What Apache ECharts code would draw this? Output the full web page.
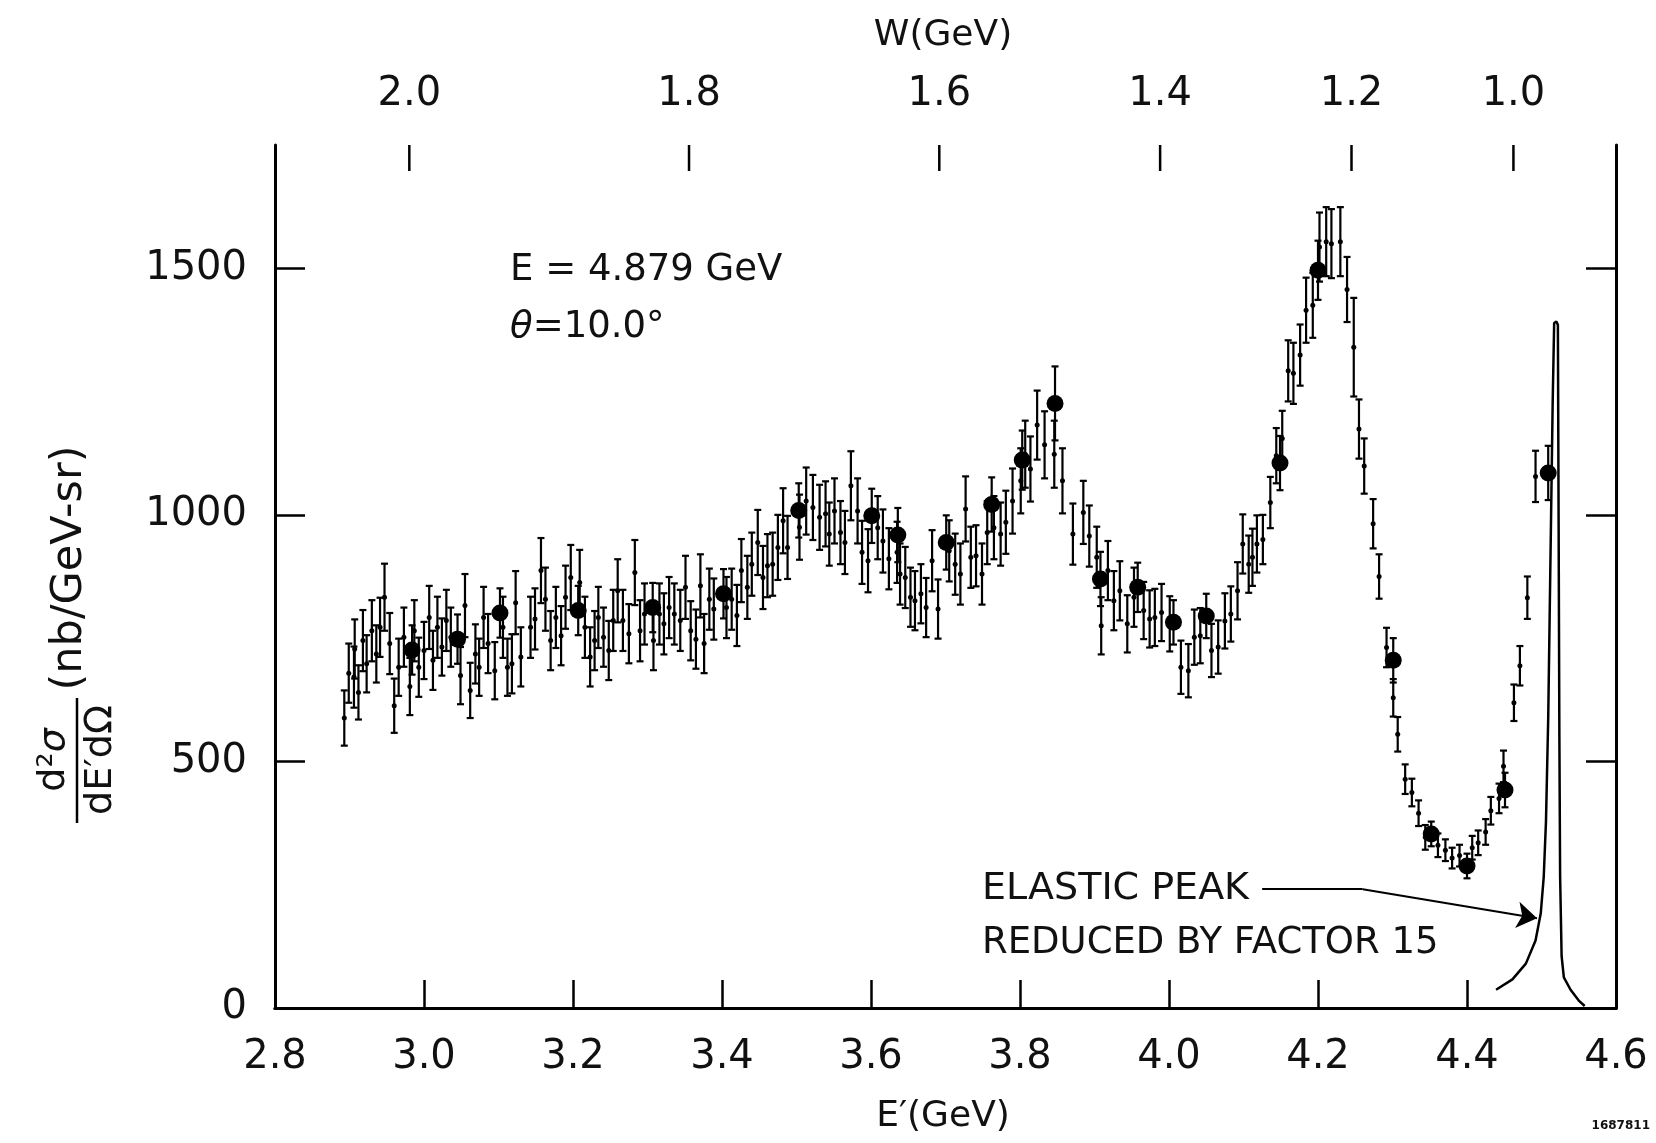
<!DOCTYPE html>
<html>
<head>
<meta charset="utf-8">
<title>d2sigma/dE'dOmega, E = 4.879 GeV, theta = 10.0 deg</title>
<script src="https://cdn.jsdelivr.net/npm/echarts@6.0.0/dist/echarts.min.js"></script>
<style>
  html, body { margin: 0; padding: 0; background: #fff; }
  #chart { width: 1656px; height: 1143px; }
</style>
</head>
<body>
<div id="chart"></div>
<script>
// kinematics (used only for the W scale on top)
var beamE = 4.879, thetaDeg = 10.0, protonM = 0.938;
var sin2 = Math.pow(Math.sin(thetaDeg / 2 * Math.PI / 180), 2);
function ePrimeFromW(w) {
  return (protonM * protonM + 2 * protonM * beamE - w * w) / (2 * protonM + 4 * beamE * sin2);
}
function wFromEPrime(ep) {
  return Math.sqrt(protonM * protonM + 2 * protonM * (beamE - ep) - 4 * beamE * ep * sin2);
}

var wTicks = [2.0, 1.8, 1.6, 1.4, 1.2, 1.0];
var yTicks = [0, 500, 1000, 1500];

// [E' (GeV), d2sigma (nb/GeV-sr), error]
var smallPoints = [
  [2.893, 588, 56], [2.899, 679, 60], [2.906, 671, 62], [2.907, 728, 60], [2.912, 640, 55],
  [2.918, 745, 62], [2.923, 698, 58], [2.930, 765, 62], [2.936, 718, 58], [2.941, 772, 60],
  [2.947, 833, 68], [2.954, 739, 62], [2.960, 613, 55], [2.966, 691, 58], [2.973, 752, 60],
  [2.981, 652, 58], [2.987, 765, 62], [2.993, 691, 60], [3.000, 725, 58], [3.007, 792, 64],
  [3.012, 705, 60], [3.018, 772, 62], [3.024, 732, 58], [3.030, 786, 62], [3.036, 752, 60],
  [3.049, 674, 58], [3.055, 816, 64], [3.062, 644, 56], [3.069, 718, 60], [3.074, 691, 58],
  [3.080, 792, 62], [3.086, 739, 60], [3.095, 684, 58], [3.106, 772, 62], [3.112, 691, 58],
  [3.118, 698, 60], [3.123, 822, 64], [3.130, 712, 60], [3.143, 772, 62], [3.149, 789, 62],
  [3.157, 887, 66], [3.163, 829, 64], [3.170, 745, 60], [3.177, 792, 62], [3.184, 755, 60],
  [3.190, 833, 64], [3.197, 873, 66], [3.209, 863, 66], [3.216, 772, 62], [3.223, 712, 60],
  [3.229, 745, 60], [3.234, 792, 62], [3.241, 752, 60], [3.248, 725, 60], [3.254, 786, 62],
  [3.260, 846, 64], [3.267, 786, 62], [3.275, 759, 60], [3.283, 883, 66], [3.290, 765, 62],
  [3.296, 799, 62], [3.308, 745, 60], [3.316, 799, 62], [3.322, 779, 62], [3.329, 812, 62],
  [3.336, 799, 62], [3.344, 786, 62], [3.351, 853, 64], [3.358, 765, 60], [3.365, 748, 60],
  [3.371, 856, 64], [3.376, 739, 60], [3.383, 829, 62], [3.389, 809, 62], [3.406, 812, 62],
  [3.413, 829, 62], [3.420, 796, 62], [3.426, 887, 64], [3.434, 853, 64], [3.440, 900, 64],
  [3.448, 944, 66], [3.455, 873, 64], [3.461, 897, 64], [3.468, 900, 64], [3.475, 934, 66],
  [3.482, 988, 66], [3.488, 934, 64], [3.504, 975, 66], [3.513, 1028, 68], [3.522, 1015, 66],
  [3.531, 995, 66], [3.539, 1002, 66], [3.544, 961, 64], [3.551, 1008, 66], [3.559, 964, 64],
  [3.565, 944, 64], [3.573, 1059, 70], [3.582, 1008, 66], [3.588, 924, 64], [3.596, 907, 64],
  [3.609, 974, 64], [3.616, 947, 64], [3.624, 911, 62], [3.635, 924, 62], [3.639, 880, 62],
  [3.646, 873, 62], [3.653, 833, 60], [3.659, 826, 60], [3.667, 840, 60], [3.674, 812, 60],
  [3.682, 907, 62], [3.690, 809, 60], [3.705, 927, 62], [3.713, 900, 62], [3.720, 880, 62],
  [3.727, 1012, 66], [3.734, 914, 62], [3.741, 917, 62], [3.749, 880, 62], [3.756, 964, 64],
  [3.765, 974, 64], [3.774, 961, 64], [3.781, 985, 64], [3.790, 1028, 66], [3.801, 1069, 66],
  [3.807, 1123, 68], [3.814, 1093, 66], [3.823, 1182, 70], [3.833, 1142, 68], [3.846, 1123, 68],
  [3.857, 1069, 66], [3.871, 961, 62], [3.885, 1005, 64], [3.893, 957, 62], [3.903, 914, 62],
  [3.909, 775, 58], [3.918, 887, 60], [3.926, 826, 60], [3.934, 846, 60], [3.944, 779, 58],
  [3.953, 833, 60], [3.966, 806, 58], [3.974, 789, 58], [3.981, 792, 58], [3.990, 802, 58],
  [4.001, 779, 56], [4.016, 691, 54], [4.026, 684, 54], [4.034, 752, 56], [4.042, 755, 56],
  [4.057, 725, 54], [4.066, 732, 54], [4.075, 785, 56], [4.083, 799, 56], [4.092, 846, 58],
  [4.099, 941, 60], [4.107, 900, 58], [4.112, 914, 58], [4.118, 941, 58], [4.126, 950, 50],
  [4.136, 1025, 52], [4.144, 1120, 56], [4.152, 1155, 56], [4.160, 1292, 62], [4.167, 1287, 62],
  [4.176, 1324, 62], [4.184, 1415, 66], [4.193, 1425, 66], [4.202, 1543, 70], [4.211, 1554, 70],
  [4.218, 1550, 70], [4.230, 1554, 70], [4.239, 1457, 66], [4.248, 1340, 100], [4.255, 1174, 60],
  [4.262, 1099, 56], [4.274, 982, 50], [4.282, 875, 45], [4.292, 731, 40], [4.301, 629, 38],
  [4.307, 555, 35], [4.317, 464, 30], [4.326, 437, 28], [4.335, 395, 26], [4.344, 346, 25],
  [4.361, 330, 24], [4.371, 320, 22], [4.380, 304, 21], [4.390, 309, 22], [4.407, 325, 24],
  [4.415, 335, 25], [4.425, 357, 26], [4.432, 400, 28], [4.443, 425, 30], [4.449, 490, 32],
  [4.463, 619, 37], [4.471, 694, 40], [4.481, 832, 43], [4.492, 1078, 52]
];

var bigPoints = [
  [2.984, 726, 50], [3.045, 748, 50], [3.102, 801, 50], [3.207, 806, 50], [3.307, 812, 50],
  [3.402, 840, 50], [3.503, 1009, 55], [3.601, 998, 55], [3.636, 959, 55], [3.701, 944, 55],
  [3.762, 1021, 55], [3.803, 1111, 60], [3.847, 1226, 75], [3.908, 870, 55], [3.958, 853, 50],
  [4.006, 782, 45], [4.050, 795, 45], [4.149, 1105, 55], [4.200, 1496, 60], [4.301, 705, 45],
  [4.352, 353, 25], [4.400, 288, 25], [4.451, 442, 35], [4.509, 1085, 55]
];

// elastic peak, reduced by factor 15
var elasticPeak = [
  [4.439, 37], [4.461, 58], [4.479, 90], [4.492, 137], [4.499, 192], [4.503, 266],
  [4.506, 378], [4.509, 587], [4.512, 907], [4.515, 1227], [4.517, 1389], [4.520, 1392],
  [4.522, 1385], [4.523, 977], [4.524, 550], [4.525, 266], [4.527, 105], [4.530, 62],
  [4.539, 37], [4.550, 15], [4.558, 4]
];

var FONT = '"DejaVu Sans", "Liberation Sans", sans-serif';
var INK = '#111';

function errBars(pts) {
  return pts.map(function (p) { return [p[0], p[1] - p[2], p[1] + p[2]]; });
}

function renderErr(params, api) {
  var x = api.value(0);
  var lo = api.coord([x, api.value(1)]);
  var hi = api.coord([x, api.value(2)]);
  var w = 3.5;
  var st = { stroke: '#000', lineWidth: 2.2 };
  return {
    type: 'group',
    children: [
      { type: 'line', shape: { x1: lo[0], y1: lo[1], x2: hi[0], y2: hi[1] }, style: st },
      { type: 'line', shape: { x1: lo[0] - w, y1: lo[1], x2: lo[0] + w, y2: lo[1] }, style: st },
      { type: 'line', shape: { x1: hi[0] - w, y1: hi[1], x2: hi[0] + w, y2: hi[1] }, style: st }
    ]
  };
}

// W ticks hang down from the top frame
function renderWTick(params, api) {
  var top = api.coord([api.value(0), 1750]);
  return {
    type: 'line',
    shape: { x1: top[0], y1: top[1], x2: top[0], y2: top[1] + 26 },
    style: { stroke: '#000', lineWidth: 2.5 }
  };
}

var myChart = echarts.init(document.getElementById('chart'));

var frameLine = { show: true, lineStyle: { color: '#000', width: 3 } };

var option = {
  animation: false,
  backgroundColor: '#fff',
  grid: { left: 275, right: 40, top: 145, bottom: 135, containLabel: false },
  xAxis: [
    {
      type: 'value', position: 'bottom', min: 2.8, max: 4.6, interval: 0.2,
      axisLine: frameLine,
      axisTick: { inside: true, length: 28, lineStyle: { color: '#000', width: 2.5 } },
      axisLabel: {
        margin: 30, color: INK, fontFamily: FONT, fontSize: 40,
        formatter: function (v) { return v.toFixed(1); }
      },
      splitLine: { show: false }
    },
    {
      type: 'value', position: 'top', min: 2.8, max: 4.6,
      axisLine: frameLine,
      axisTick: { show: false },
      axisLabel: {
        margin: 30, color: INK, fontFamily: FONT, fontSize: 40,
        customValues: wTicks.map(ePrimeFromW),
        formatter: function (v) { return wFromEPrime(v).toFixed(1); }
      },
      splitLine: { show: false }
    }
  ],
  yAxis: [
    {
      type: 'value', position: 'left', min: 0, max: 1750,
      axisLine: frameLine,
      axisTick: { inside: true, length: 30, lineStyle: { color: '#000', width: 2.5 }, customValues: yTicks },
      axisLabel: {
        margin: 28, color: INK, fontFamily: FONT, fontSize: 40, customValues: yTicks,
        formatter: function (v) { return String(v); }
      },
      splitLine: { show: false }
    },
    {
      type: 'value', position: 'right', min: 0, max: 1750,
      axisLine: frameLine,
      axisTick: { inside: true, length: 30, lineStyle: { color: '#000', width: 2.5 }, customValues: yTicks },
      axisLabel: { show: false },
      splitLine: { show: false }
    }
  ],
  series: [
    {
      name: 'W ticks', type: 'custom', renderItem: renderWTick,
      data: wTicks.map(function (w) { return [ePrimeFromW(w)]; }),
      encode: { x: 0 }, silent: true, clip: false, z: 1
    },
    {
      name: 'errors', type: 'custom', renderItem: renderErr,
      data: errBars(smallPoints).concat(errBars(bigPoints)),
      encode: { x: 0, y: [1, 2] }, silent: true, z: 2
    },
    {
      name: 'points', type: 'scatter', symbol: 'circle', symbolSize: 5,
      itemStyle: { color: '#000', opacity: 1 }, silent: true, z: 3,
      data: smallPoints.map(function (p) { return [p[0], p[1]]; })
    },
    {
      name: 'big points', type: 'scatter', symbol: 'circle', symbolSize: 17,
      itemStyle: { color: '#000', opacity: 1 }, silent: true, z: 4,
      data: bigPoints.map(function (p) { return [p[0], p[1]]; })
    },
    {
      name: 'elastic', type: 'line', data: elasticPeak, showSymbol: false, symbol: 'none',
      lineStyle: { color: '#000', width: 2.5 }, silent: true, z: 5,
      markLine: {
        silent: true, animation: false, symbolSize: 20,
        label: { show: false },
        lineStyle: { color: '#000', width: 2, type: 'solid' },
        data: [
          [{ coord: [4.125, 241], symbol: 'none' }, { coord: [4.26, 241], symbol: 'none' }],
          [{ coord: [4.26, 241], symbol: 'none' }, { coord: [4.494, 182], symbol: 'arrow' }]
        ]
      }
    }
  ],
  graphic: [
    { type: 'text', x: 943, y: 36, style: { text: 'W(GeV)', font: '36px ' + FONT, fill: INK, textAlign: 'center', textVerticalAlign: 'middle' } },
    { type: 'text', x: 943, y: 1117, style: { text: 'E\u2032(GeV)', font: '36px ' + FONT, fill: INK, textAlign: 'center', textVerticalAlign: 'middle' } },
    { type: 'text', x: 510, y: 270, style: { text: 'E = 4.879 GeV', font: '37px ' + FONT, fill: INK, textAlign: 'left', textVerticalAlign: 'middle' } },
    {
      type: 'text', x: 510, y: 327,
      style: {
        text: '{i|\u03b8}=10.0°', font: '37px ' + FONT, fill: INK, textAlign: 'left', textVerticalAlign: 'middle',
        rich: { i: { fontStyle: 'italic', fontFamily: FONT, fontSize: 37, fill: INK } }
      }
    },
    { type: 'text', x: 982, y: 889, style: { text: 'ELASTIC PEAK', font: '38px ' + FONT, fill: INK, textAlign: 'left', textVerticalAlign: 'middle' } },
    { type: 'text', x: 982, y: 943, style: { text: 'REDUCED BY FACTOR 15', font: '37px ' + FONT, fill: INK, textAlign: 'left', textVerticalAlign: 'middle' } },
    // y axis title, rotated
    { type: 'text', x: 70, y: 568, rotation: Math.PI / 2, style: { text: '(nb/GeV-sr)', font: '43px ' + FONT, fill: INK, textAlign: 'center', textVerticalAlign: 'middle' } },
    {
      type: 'text', x: 54, y: 760, rotation: Math.PI / 2,
      style: {
        text: 'd\u00b2{i|\u03c3}', font: '38px ' + FONT, fill: INK, textAlign: 'center', textVerticalAlign: 'middle',
        rich: { i: { fontStyle: 'italic', fontFamily: FONT, fontSize: 38, fill: INK } }
      }
    },
    { type: 'line', shape: { x1: 77, y1: 698, x2: 77, y2: 823 }, style: { stroke: '#000', lineWidth: 2.5 } },
    { type: 'text', x: 101, y: 760, rotation: Math.PI / 2, style: { text: 'dE\u2032d\u03a9', font: '38px ' + FONT, fill: INK, textAlign: 'center', textVerticalAlign: 'middle' } },
    { type: 'text', x: 1650, y: 1126, style: { text: '1687811', font: 'bold 12px ' + FONT, fill: INK, textAlign: 'right', textVerticalAlign: 'middle' } }
  ]
};

myChart.setOption(option);
</script>
</body>
</html>
